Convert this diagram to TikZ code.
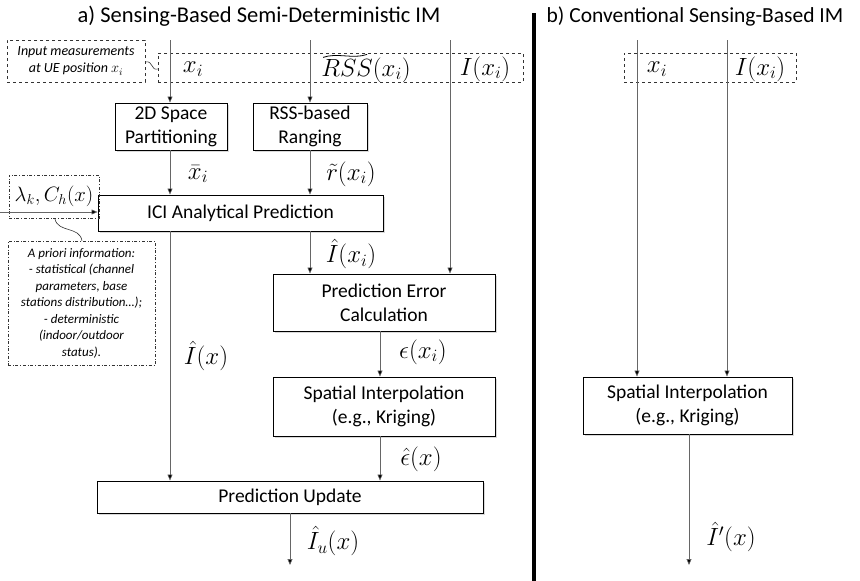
\documentclass[tikz,border=0pt]{standalone}
\usepackage{fontspec}
\setmainfont{Carlito}
\usetikzlibrary{arrows.meta,shadows,calc}
\begin{document}
\begin{tikzpicture}[x=1pt,y=-1pt,
  box/.style={draw=black,line width=0.9pt,fill=white,align=center,font=\fontsize{19.5}{24}\selectfont,
    inner sep=0pt,drop shadow={opacity=0.3,shadow xshift=2pt,shadow yshift=-2pt}},
  inbox/.style={draw=black!80,dashed,line width=0.8pt,inner sep=0pt},
  ddbox/.style={draw=black!80,dash dot,line width=0.8pt,inner sep=0pt,align=center},
  arr/.style={draw=black!60,line width=0.6pt,-{Triangle[length=6pt,width=5pt,fill=black]}},
  ml/.style={font=\fontsize{23}{25}\selectfont,inner sep=0pt},
  ttl/.style={font=\fontsize{22.5}{25}\selectfont,inner sep=0pt}]
\useasboundingbox (0,0) rectangle (860,581);
% titles and divider
\node[ttl] (ta) at (259,16) {a) Sensing-Based Semi-Deterministic IM};
\node[ttl,font=\fontsize{21.5}{25}\selectfont] (tb) at (695,16) {b) Conventional Sensing-Based IM};
\coordinate (dv1) at (534,13);
\coordinate (dv2) at (534,581);
\draw[line width=3.5pt] (dv1) -- (dv2);
% input boxes
\node[inbox,minimum width=138pt,minimum height=42pt,align=center,font=\fontsize{14}{17}\selectfont\itshape] (inp) at (76,61) {Input measurements\\at UE position $x_i$};
\node[inbox,minimum width=365pt,minimum height=29pt] (meas) at (340.5,67.5) {};
\node[inbox,minimum width=172pt,minimum height=29pt] (measR) at (710,67.5) {};
\coordinate (w1) at (inp.east |- 0,62);
\coordinate (w2) at (meas.west |- 0,69);
\draw[black!80,line width=0.6pt] (w1) .. controls (153,60) and (151,71) .. (w2);
\node[ml] (lxi) at (193,69) {$x_i$};
\node[ml] (lrss) at (366,70) {$RSS(x_i)$};
\coordinate (t1) at ($(lrss.north west)+(2,0)$);
\coordinate (t2) at ($(lrss.north west)+(46,-3)$);
\draw[line width=0.8pt] (t1) .. controls ($(t1)+(14,-5)$) and ($(t2)+(-14,5)$) .. (t2);
\node[ml] (lI) at (485,69) {$I(x_i)$};
\node[ml] (lxiR) at (657,69) {$x_i$};
\node[ml] (lIR) at (760,69) {$I(x_i)$};
% boxes
\node[box,minimum width=112pt,minimum height=47pt] (sp) at (171,126.5) {2D Space\\Partitioning};
\node[box,minimum width=114pt,minimum height=47pt] (rs) at (310,126.5) {RSS-based\\Ranging};
\node[box,minimum width=285pt,minimum height=36pt] (ici) at (240.5,213) {ICI Analytical Prediction};
\node[box,minimum width=222pt,minimum height=57pt] (pe) at (384,302.5) {Prediction Error\\Calculation};
\node[box,minimum width=222pt,minimum height=59pt] (si) at (384,406.5) {Spatial Interpolation\\(e.g., Kriging)};
\node[box,minimum width=386pt,minimum height=32pt] (up) at (290,497) {Prediction Update};
\node[box,minimum width=209pt,minimum height=57pt] (siR) at (687.5,405.5) {Spatial Interpolation\\(e.g., Kriging)};
% a priori boxes
\node[ddbox,minimum width=90pt,minimum height=43pt,font=\fontsize{21}{23}\selectfont] (lam) at (54,196.5) {$\lambda_k,C_h(x)$};
\node[ddbox,minimum width=147pt,minimum height=124pt,font=\fontsize{13}{16.5}\selectfont\itshape] (apr) at (81.5,303) {A priori information:\\- statistical (channel\\parameters, base\\stations distribution…);\\- deterministic\\(indoor/outdoor\\status).};
\coordinate (c1) at (55,219);
\coordinate (c2) at (82,241);
\draw[black!80,line width=0.6pt] (c1) .. controls (58,233) and (80,226) .. (c2);
% top feed lines
\coordinate (f1) at (170,40);
\coordinate (f2) at (310,40);
\coordinate (f3) at (450,40);
\coordinate (f4) at (637,40);
\coordinate (f5) at (727,40);
\draw[arr] (f1) -- (f1 |- sp.north);
\draw[arr] (f2) -- (f2 |- rs.north);
\draw[arr] (f3) -- (f3 |- pe.north);
\draw[arr] (f4) -- (f4 |- siR.north);
\draw[arr] (f5) -- (f5 |- siR.north);
% internal arrows
\draw[arr] (f1 |- sp.south) -- (f1 |- ici.north);
\draw[arr] (f2 |- rs.south) -- (f2 |- ici.north);
\coordinate (lin) at (0,212);
\draw[arr] (lin) -- (lin -| ici.west);
\draw[arr] (f1 |- ici.south) -- (f1 |- up.north);
\draw[arr] (f2 |- ici.south) -- (f2 |- pe.north);
\coordinate (g1) at (380,0);
\draw[arr] (g1 |- pe.south) -- (g1 |- si.north);
\draw[arr] (g1 |- si.south) -- (g1 |- up.north);
\coordinate (o1) at (290,565);
\draw[arr] (o1 |- up.south) -- (o1);
\coordinate (o2) at (689,565);
\draw[arr] (o2 |- siR.south) -- (o2);
% labels
\node[ml] (lxb) at (198,174) {$\bar{x}_i$};
\node[ml] (lr) at (351,174) {$\tilde{r}(x_i)$};
\node[ml] (lIh) at (351,254) {$\hat{I}(x_i)$};
\node[ml] (leps) at (423,352) {$\epsilon(x_i)$};
\node[ml] (lepsh) at (421,459) {$\hat{\epsilon}(x)$};
\node[ml] (lIx) at (206,356) {$\hat{I}(x)$};
\node[ml] (lIu) at (333,541) {$\hat{I}_u(x)$};
\node[ml] (lIp) at (731,537) {$\hat{I}'(x)$};
\end{tikzpicture}
\end{document}
